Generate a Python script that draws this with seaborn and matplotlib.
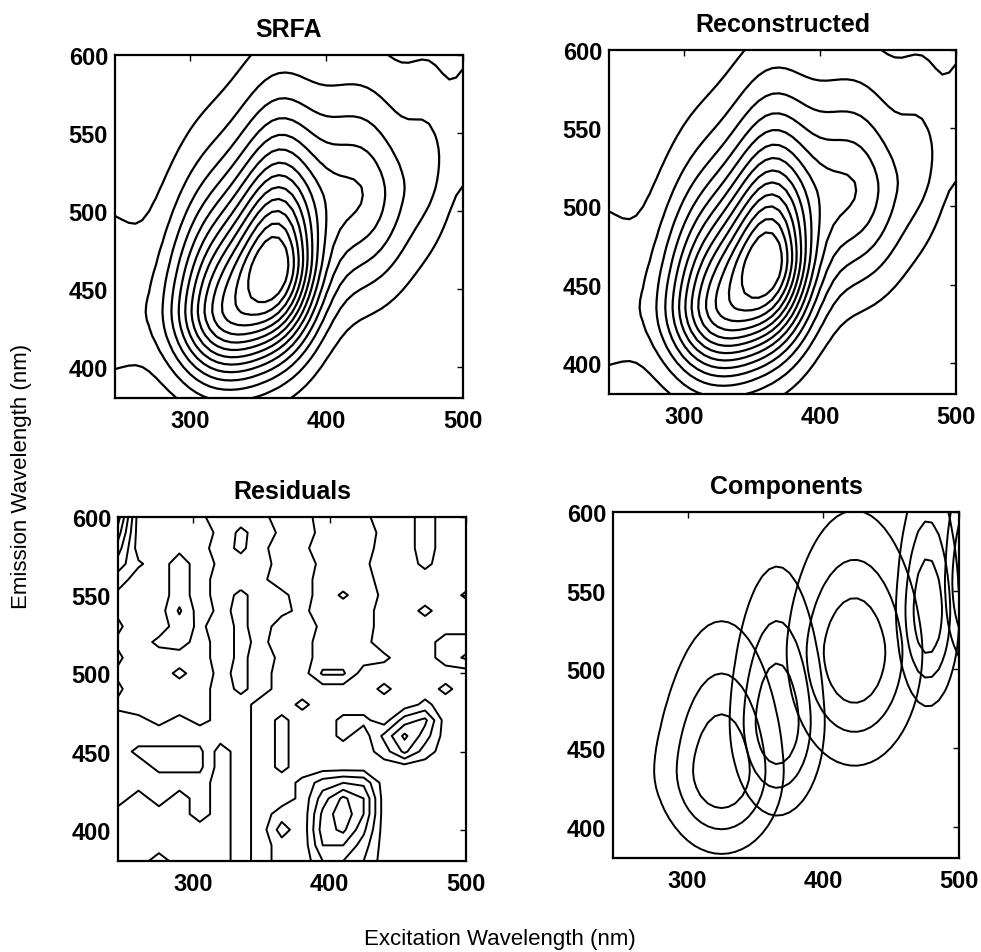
import numpy as np
import matplotlib
matplotlib.use('Agg')
import matplotlib.pyplot as plt
import seaborn as sns

# --- Measurement grid (nm) ---
ex_nm = np.arange(245, 501, 5)
em_nm = np.arange(380, 601, 5)

comp_ex_peak = [325, 366, 423, 477, 508]
comp_ex_width = [27.5, 21, 30, 14, 11]
comp_em_peak = [436, 467, 512, 538, 556]
comp_em_width_lo = [32, 36, 44, 37, 32]
comp_em_width_hi = [50, 52, 47, 46, 40]
comp_shoulder_amp = [0.20, 0, 0, 0, 0]   # rise at short excitation
comp_shoulder_ex = [235, 235, 235, 235, 235]
comp_shoulder_width = [25, 25, 25, 25, 25]
comp_amp = [0.55, 0.60, 0.27, 0.08, 0.08]
comp_levels = [0.25, 0.5, 0.75]

res_ex = [245, 260, 275, 290, 305, 320, 335, 350, 365, 380, 395, 410, 425, 440, 455, 470, 485, 500]
res_em = list(range(600, 379, -10))
res_rows = [
    [9, -1, -1, -1, -0.4, 1, 1, 0.6, -1, -1, 1, 1, 0.5, -1, -1, 1, -1, -1],
    [7, -1, -1, -1, -1, 0.5, 2.5, 1, -0.4, -1, 0.6, 1, 1, -0.6, -1, 1, -1, -1],
    [5, -1, -1, -0.5, -0.8, 1, 2.5, 0.5, -1, -0.5, 1, 1, 1, -1, -1, 1, -1, -1],
    [3, 0.3, -1, 1, -1, 0.4, 1, 1, -1, -1, 0.5, 1, 0.4, -1, -1, 0.5, -1, -1],
    [1, -1, -1, 1, -1, 1, 1, 0.4, -1, -1, 1, 1, 1, -1, -1, -1, -1, -1],
    [-0.5, -1, -1, 1, -1, 1, -0.5, 1, 0.5, -1, 1, 2.3, 1, -0.4, -1, -1, -1, 0.3],
    [-0.3, -1, -1, 2.3, -1, 0.5, -0.5, 1, 0.5, -0.5, 1, 1, 1, -1, -1, 0.5, -1, -1],
    [0.3, -1, -1, 1, -0.4, 1, -0.5, 1, -1, -1, 0.4, 1, 1, -1, -1, -1, -1, -1],
    [-0.3, -1, 0.5, 1, -1, 1, -0.5, 0.5, -1, -1, 1, 1, 0.6, -1, -1, -1, 1, 1],
    [0.3, -1, -1, -1, -1, 1, -0.5, 1, -0.5, -1, 1, 1, 1, 0.4, -1, -1, 1, 2.3],
    [-0.3, -1, -1, 0.5, -1, 0.5, -0.5, 1, -1, -1, 2.3, 2.3, -1, -1, -1, -1, -1, -1],
    [0.3, -1, -1, -1, -1, 1, -0.5, 1, -1, -1, -1, -1, -1, 0.5, -1, -1, 0.5, -1],
    [-0.3, -1, -1, -1, -1, 1, 1, -1, -1, 0.5, -1, -1, -1, -1, -1, 0.5, -1, -1],
    [0.5, 0.5, -0.5, 0.5, -0.5, 0.5, 1, -1, 0.5, -1, -1, 0.5, 0.5, -1, 3, 4.5, -1, -1],
    [1, 1, 1, 1, 1, 1, 1, -1, 0.5, -1, -1, 0.5, -1, 2.5, 6.5, 3, -1, -1],
    [1, 2.5, 2.5, 2.5, 2.5, -1, 1, -1, 0.5, -1, -1, -1, -1, 1, 4.5, 1, -1, -1],
    [1, 1, 2.5, 2.5, 2.5, -1, 1, -1, 0.5, -1, -1, -1, -1, -1, -1, -1, -1, -1],
    [1, 1, 1, 1, 1, -1, 1, -1, -1, 0.5, 3, 4, 3.5, -1, -1, -1, -1, -1],
    [1, -1, 1, -1, 1, -1, 1, -1, -1, 0.5, 5, 8.5, 6, -1, -1, -1, -1, -1],
    [-1, -1, -1, -1, 1, -1, 1, -1, 1, 0.5, 6.5, 9.5, 6, -1, -1, -1, -1, -1],
    [-1, -1, -1, -1, -1, -1, 1, -1, 3, 0.5, 7, 8.5, 4.5, -1, -1, -1, -1, -1],
    [-1, -1, -1, -1, -1, -1, 1, -1, 1, 0.5, 6, 6, 3, -1, -1, -1, -1, -1],
    [-1, -1, 1, -1, -1, -1, 1, -1, 1, 0.5, 4, 4, 2, -1, -1, -1, -1, -1],
]
res_levels = [0, 2, 4, 6, 8]


def peak_shape(x, mu, s, p=2.0):
    return np.exp(-0.5 * np.abs((x - mu) / s) ** p)


EX, EM = np.meshgrid(ex_nm, em_nm)
components = []
for k in range(len(comp_ex_peak)):
    ex_load = peak_shape(EX, comp_ex_peak[k], comp_ex_width[k]) + \
        comp_shoulder_amp[k] * peak_shape(EX, comp_shoulder_ex[k], comp_shoulder_width[k])
    em_load = np.where(EM < comp_em_peak[k],
                       peak_shape(EM, comp_em_peak[k], comp_em_width_lo[k]),
                       peak_shape(EM, comp_em_peak[k], comp_em_width_hi[k], 1.6))
    components.append(ex_load * em_load)

recon = sum(a * c for a, c in zip(comp_amp, components))
srfa = recon.copy()
sum_levels = np.linspace(0.07, 0.9, 13) * recon.max()

# --- Plot ---
sns.set_theme(style='white')
plt.rcParams['font.family'] = ['Liberation Sans', 'DejaVu Sans']
plt.rcParams['font.weight'] = 'bold'
plt.rcParams['text.color'] = 'black'
plt.rcParams['axes.labelcolor'] = 'black'

fig = plt.figure(figsize=(9.81, 9.53), dpi=100)
boxes = {
    'SRFA': [0.1172, 0.5813, 0.3547, 0.3599],
    'Reconstructed': [0.6208, 0.5855, 0.3537, 0.3610],
    'Residuals': [0.1203, 0.0955, 0.3547, 0.3610],
    'Components': [0.6249, 0.0986, 0.3527, 0.3631],
}
axes = {name: fig.add_axes(b) for name, b in boxes.items()}

lw = 1.6
axes['SRFA'].contour(EX, EM, srfa, levels=sum_levels, colors='black', linewidths=lw)
axes['Reconstructed'].contour(EX, EM, recon, levels=sum_levels, colors='black', linewidths=lw)
axes['Residuals'].contour(res_ex, res_em, np.array(res_rows), levels=res_levels,
                          colors='black', linewidths=1.4)
for c in components:
    axes['Components'].contour(EX, EM, c, levels=comp_levels, colors='black', linewidths=1.4)

for name, ax in axes.items():
    ax.set_xlim(245, 500)
    ax.set_ylim(380, 600)
    ax.set_xticks([300, 400, 500])
    ax.set_yticks([400, 450, 500, 550, 600])
    ax.tick_params(direction='in', top=True, right=True, length=4, width=1,
                   labelsize=17, colors='black')
    ax.tick_params(axis='y', pad=5)
    ax.tick_params(axis='x', pad=8)
    for lab in ax.get_xticklabels() + ax.get_yticklabels():
        lab.set_fontweight('bold')
    for sp in ax.spines.values():
        sp.set_color('black')
        sp.set_linewidth(1.6)
    ax.set_title(name, fontsize=18, fontweight='bold', pad=14, color='black')

fig.text(0.51, 0.008, 'Excitation Wavelength (nm)', ha='center', va='baseline',
         fontsize=16, fontweight='normal')
fig.text(0.022, 0.5, 'Emission Wavelength (nm)', ha='center', va='center',
         rotation=90, fontsize=16, fontweight='normal')

fig.savefig('out.png', dpi=100, facecolor='white')
